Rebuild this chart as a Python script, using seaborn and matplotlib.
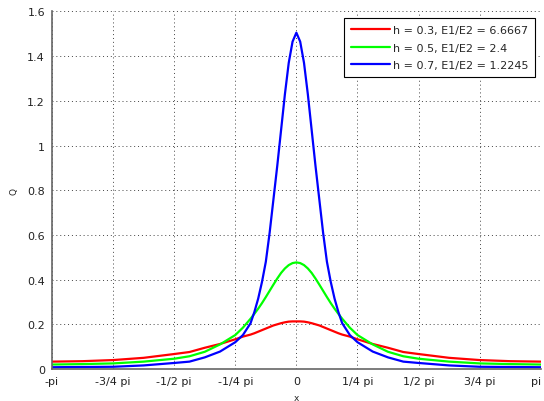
import numpy as np
import pandas as pd
import matplotlib
matplotlib.use("Agg")
import matplotlib.pyplot as plt
import seaborn as sns

sns.set_theme(style="white")
plt.rcParams['font.family'] = ['DejaVu Sans']

# x positions (in units of pi) and Q values
x_pi = [-1.0, -0.875, -0.75, -0.625, -0.5, -0.4375, -0.375, -0.3125, -0.25, -0.21875,
        -0.1875, -0.171875, -0.15625, -0.140625, -0.125, -0.109375, -0.09375, -0.078125,
        -0.0625, -0.046875, -0.03125, -0.015625, 0.0,
        0.015625, 0.03125, 0.046875, 0.0625, 0.078125, 0.09375, 0.109375, 0.125,
        0.140625, 0.15625, 0.171875, 0.1875, 0.21875, 0.25, 0.3125, 0.375, 0.4375,
        0.5, 0.625, 0.75, 0.875, 1.0]

q_h03 = [0.033, 0.035, 0.040, 0.050, 0.067, 0.076, 0.095, 0.112, 0.133, 0.145,
         0.154, 0.160, 0.167, 0.174, 0.181, 0.188, 0.195, 0.200,
         0.205, 0.209, 0.212, 0.213, 0.213,
         0.213, 0.212, 0.209, 0.205, 0.200, 0.195, 0.188, 0.181,
         0.174, 0.167, 0.160, 0.154, 0.145, 0.133, 0.112, 0.095, 0.076,
         0.067, 0.050, 0.040, 0.035, 0.033]

q_h05 = [0.020, 0.022, 0.025, 0.033, 0.046, 0.057, 0.077, 0.110, 0.152, 0.185,
         0.225, 0.247, 0.270, 0.295, 0.322, 0.350, 0.378, 0.405,
         0.430, 0.450, 0.465, 0.474, 0.477,
         0.474, 0.465, 0.450, 0.430, 0.405, 0.378, 0.350, 0.322,
         0.295, 0.270, 0.247, 0.225, 0.185, 0.152, 0.110, 0.077, 0.057,
         0.046, 0.033, 0.025, 0.022, 0.020]

q_h07 = [0.008, 0.009, 0.010, 0.016, 0.027, 0.033, 0.052, 0.078, 0.120, 0.152,
         0.205, 0.255, 0.315, 0.390, 0.480, 0.610, 0.760, 0.910,
         1.070, 1.230, 1.370, 1.465, 1.505,
         1.465, 1.370, 1.230, 1.070, 0.910, 0.760, 0.610, 0.480,
         0.390, 0.315, 0.255, 0.205, 0.152, 0.120, 0.078, 0.052, 0.033,
         0.027, 0.016, 0.010, 0.009, 0.008]

series_labels = ['h = 0.3, E1/E2 = 6.6667', 'h = 0.5, E1/E2 = 2.4', 'h = 0.7, E1/E2 = 1.2245']
series_colors = ['#ff0000', '#00ff00', '#0000ff']

xtick_pi = [-1, -0.75, -0.5, -0.25, 0, 0.25, 0.5, 0.75, 1]
xtick_labels = ['-pi', '-3/4 pi', '-1/2 pi', '-1/4 pi', '0', '1/4 pi', '1/2 pi', '3/4 pi', 'pi']
yticks = [0, 0.2, 0.4, 0.6, 0.8, 1, 1.2, 1.4, 1.6]
ytick_labels = ['0', '0.2', '0.4', '0.6', '0.8', '1', '1.2', '1.4', '1.6']

# long-form table for seaborn
x_rad = np.array(x_pi) * np.pi
df = pd.concat([
    pd.DataFrame({'x': x_rad, 'Q': q, 'series': lab})
    for q, lab in zip([q_h03, q_h05, q_h07], series_labels)
])

fig = plt.figure(figsize=(5.44, 4.02), dpi=100)
ax = fig.add_axes([0.0956, 0.0796, 0.994 - 0.0956, 0.969 - 0.0796])

sns.lineplot(data=df, x='x', y='Q', hue='series', hue_order=series_labels,
             palette=series_colors, linewidth=1.6, ax=ax, sort=False)

ax.set_xlim(-np.pi, np.pi)
ax.set_ylim(0, 1.6)
ax.set_xticks(np.array(xtick_pi) * np.pi)
ax.set_xticklabels(xtick_labels)
ax.set_yticks(yticks)
ax.set_yticklabels(ytick_labels)
ax.tick_params(direction='in', length=4, width=1, color='#666666',
               labelsize=8, labelcolor='#222222', pad=5)
# keep the last label ("pi") inside the figure
ax.get_xticklabels()[-1].set_horizontalalignment('right')

ax.grid(True, color='#444444', linestyle=(0, (1, 3)), linewidth=0.7)
for side in ['top', 'right']:
    ax.spines[side].set_visible(False)
for side in ['left', 'bottom']:
    ax.spines[side].set_color('#666666')
    ax.spines[side].set_linewidth(1.2)

ax.set_xlabel('x', fontsize=6.5, labelpad=5)
ax.set_ylabel('Q', fontsize=6.5, labelpad=6)

leg = ax.legend(loc='upper right', bbox_to_anchor=(0.9885, 0.9815), borderaxespad=0,
                fontsize=8, frameon=True, fancybox=False, handlelength=3.5,
                handletextpad=0.3, labelspacing=0.7, borderpad=0.6)
leg.get_frame().set_edgecolor('black')
leg.get_frame().set_linewidth(0.8)
leg.get_frame().set_alpha(1)
for line in leg.get_lines():
    line.set_linewidth(1.6)

fig.savefig('out.png', dpi=100)
